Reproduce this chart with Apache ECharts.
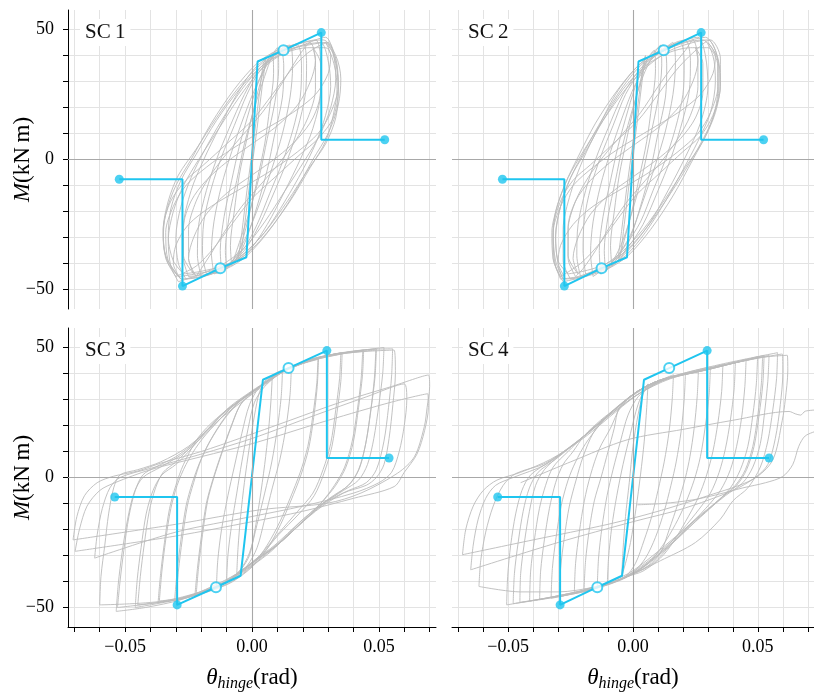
<!DOCTYPE html>
<html><head><meta charset="utf-8">
<script src="https://cdn.jsdelivr.net/npm/echarts@6/dist/echarts.min.js"></script>
<style>html,body{margin:0;padding:0;background:#fff}#c{width:814px;height:698px}</style>
</head><body><div id="c"></div>
<script>
const panelNames = ['SC\u20091', 'SC\u20092', 'SC\u20093', 'SC\u20094'];
const xTickValues = [-0.07,-0.06,-0.05,-0.04,-0.03,-0.02,-0.01,0,0.01,0.02,0.03,0.04,0.05,0.06,0.07];
const xLabelValues = [-0.05, 0, 0.05];
const yTickValues = [-50,-40,-30,-20,-10,0,10,20,30,40,50];
const yLabelValues = [-50, 0, 50];
const filledIdx = [0, 2, 7, 9];
const openIdx = [3, 6];

const sc1Backbone = [[-0.0523,-7.6],[-0.0274,-7.6],[-0.0274,-48.7],[-0.0125,-41.8],[-0.0022,-37.6],[0.0022,37.7],[0.0124,42.0],[0.0273,48.8],[0.0273,7.6],[0.0523,7.6]];
const sc2Backbone = [[-0.0523,-7.6],[-0.0275,-7.6],[-0.0275,-48.7],[-0.0126,-41.8],[-0.0024,-37.6],[0.0022,37.7],[0.0123,42.0],[0.0273,48.8],[0.0273,7.6],[0.0523,7.6]];
const sc3Backbone = [[-0.0541,-7.5],[-0.0295,-7.5],[-0.0295,-49.0],[-0.0142,-42.2],[-0.0045,-37.8],[0.0043,37.6],[0.0144,42.1],[0.0295,48.8],[0.0295,7.5],[0.0540,7.5]];
const sc4Backbone = [[-0.0542,-7.5],[-0.0292,-7.5],[-0.0292,-49.0],[-0.0143,-42.2],[-0.0044,-37.8],[0.0044,37.6],[0.0145,42.1],[0.0297,48.8],[0.0297,7.5],[0.0545,7.5]];

const sc1Loops = [
[[-0.0055,-39],[-0.004,-28],[-0.002,-12],[0.001,10],[0.003,26],[0.0045,37],[0.0055,39],[0.004,28],[0.002,12],[-0.001,-10],[-0.003,-26],[-0.0045,-37],[-0.0055,-39]],
[[-0.008,-41],[-0.0085,-33],[-0.007,-20],[-0.005,-6],[-0.002,8],[0.001,21],[0.004,32],[0.0065,39],[0.008,41],[0.0085,33],[0.007,20],[0.005,6],[0.002,-8],[-0.001,-21],[-0.004,-32],[-0.0065,-39],[-0.008,-41]],
[[-0.010,-42],[-0.0105,-35],[-0.009,-22],[-0.006,-8],[-0.003,6],[0.001,20],[0.005,32],[0.008,40],[0.010,43],[0.0105,35],[0.009,22],[0.006,8],[0.003,-6],[-0.001,-20],[-0.005,-32],[-0.008,-40],[-0.010,-42]],
[[-0.012,-43],[-0.0125,-35],[-0.011,-22],[-0.008,-8],[-0.005,5],[-0.001,19],[0.003,31],[0.007,39],[0.011,43],[0.0125,36],[0.012,24],[0.009,10],[0.006,-4],[0.002,-18],[-0.002,-30],[-0.006,-38],[-0.012,-43]],
[[-0.015,-44],[-0.016,-36],[-0.015,-24],[-0.012,-10],[-0.008,3],[-0.003,17],[0.002,29],[0.007,38],[0.012,43],[0.015,44],[0.016,36],[0.015,24],[0.012,10],[0.008,-3],[0.003,-17],[-0.002,-29],[-0.007,-38],[-0.012,-43],[-0.015,-44]],
[[-0.018,-44],[-0.0195,-36],[-0.019,-24],[-0.016,-11],[-0.012,1],[-0.007,13],[-0.002,25],[0.003,34],[0.009,40],[0.014,43],[0.018,44],[0.0195,36],[0.019,24],[0.016,11],[0.012,-1],[0.007,-13],[0.002,-25],[-0.003,-34],[-0.009,-40],[-0.014,-43],[-0.018,-44]],
[[-0.020,-45],[-0.0215,-37],[-0.021,-25],[-0.018,-12],[-0.014,0],[-0.009,12],[-0.003,25],[0.003,35],[0.010,41],[0.016,44],[0.020,45],[0.0215,37],[0.021,25],[0.018,12],[0.014,0],[0.009,-12],[0.003,-25],[-0.003,-35],[-0.010,-41],[-0.016,-44],[-0.020,-45]],
[[-0.022,-45],[-0.025,-38],[-0.025,-27],[-0.022,-16],[-0.017,-7],[-0.011,1],[-0.004,9],[0.004,18],[0.011,28],[0.016,36],[0.020,42],[0.023,45],[0.025,38],[0.025,27],[0.022,16],[0.017,7],[0.011,-1],[0.004,-9],[-0.004,-18],[-0.011,-28],[-0.016,-36],[-0.020,-42],[-0.022,-45]],
[[-0.025,-45],[-0.027,-38],[-0.027,-26],[-0.024,-12],[-0.019,0],[-0.013,12],[-0.006,25],[0.001,35],[0.009,41],[0.017,44],[0.025,46],[0.027,38],[0.027,26],[0.024,12],[0.019,0],[0.013,-12],[0.006,-25],[-0.001,-35],[-0.009,-41],[-0.017,-44],[-0.025,-45]],
[[-0.026,-46],[-0.029,-40],[-0.030,-30],[-0.028,-18],[-0.024,-7],[-0.019,3],[-0.012,15],[-0.004,27],[0.004,36],[0.012,41],[0.020,44],[0.027,45],[0.030,38],[0.031,28],[0.029,17],[0.025,6],[0.020,-4],[0.013,-16],[0.005,-28],[-0.003,-36],[-0.011,-42],[-0.019,-45],[-0.026,-46]],
[[-0.029,-47],[-0.032,-41],[-0.033,-31],[-0.031,-20],[-0.027,-10],[-0.021,0],[-0.013,12],[-0.005,24],[0.003,34],[0.011,40],[0.020,44],[0.029,47],[0.032,41],[0.033,31],[0.031,20],[0.027,10],[0.021,0],[0.013,-12],[0.005,-24],[-0.003,-34],[-0.011,-40],[-0.020,-44],[-0.029,-47]],
[[-0.028,-46],[-0.033,-40],[-0.035,-31],[-0.034,-21],[-0.030,-10],[-0.024,0],[-0.016,14],[-0.007,27],[0.002,37],[0.010,42],[0.020,45],[0.028,46],[0.033,40],[0.035,31],[0.034,21],[0.030,10],[0.024,0],[0.016,-14],[0.007,-27],[-0.002,-37],[-0.010,-42],[-0.020,-45],[-0.028,-46]],
[[-0.029,-45],[-0.034,-37],[-0.035,-27],[-0.033,-16],[-0.029,-6],[-0.022,4],[-0.014,16],[-0.005,28],[0.004,37],[0.013,42],[0.022,44],[0.029,45],[0.033,37],[0.034,27],[0.033,16],[0.029,6],[0.022,-4],[0.014,-16],[0.005,-28],[-0.004,-37],[-0.013,-42],[-0.022,-44],[-0.029,-45]],
[[-0.027,-44],[-0.031,-39],[-0.033,-30],[-0.032,-19],[-0.028,-8],[-0.022,2],[-0.014,15],[-0.005,27],[0.004,36],[0.013,41],[0.022,43],[0.029,43],[0.0325,36],[0.0335,27],[0.032,17],[0.029,7],[0.023,-3],[0.015,-16],[0.006,-28],[-0.003,-37],[-0.012,-41],[-0.020,-43],[-0.027,-44]],
[[-0.030,-45],[-0.034,-38],[-0.035,-27],[-0.032,-16],[-0.026,-8],[-0.019,-2],[-0.010,6],[0.000,15],[0.008,25],[0.015,34],[0.022,41],[0.030,45],[0.033,38],[0.034,27],[0.032,16],[0.026,8],[0.019,2],[0.010,-6],[0.000,-15],[-0.008,-25],[-0.015,-34],[-0.022,-41],[-0.030,-45]],
[[-0.028,-46],[-0.033,-39],[-0.034,-28],[-0.031,-18],[-0.026,-10],[-0.018,-3],[-0.008,4],[0.004,11],[0.016,18],[0.025,25],[0.030,33],[0.031,40],[0.029,45],[0.033,39],[0.034,28],[0.031,18],[0.026,10],[0.018,3],[0.008,-4],[-0.004,-11],[-0.016,-18],[-0.025,-25],[-0.030,-33],[-0.031,-40],[-0.028,-46]],
[[-0.023,-44],[-0.027,-37],[-0.027,-26],[-0.024,-16],[-0.018,-8],[-0.010,-1],[0.000,6],[0.010,13],[0.018,21],[0.023,30],[0.025,38],[0.024,43],[0.027,37],[0.027,26],[0.024,16],[0.018,8],[0.010,1],[0.000,-6],[-0.010,-13],[-0.018,-21],[-0.023,-30],[-0.025,-38],[-0.023,-44]]
];

const sc2Loops = [
[[-0.006,-38],[-0.0045,-27],[-0.0025,-11],[0.0005,10],[0.0025,25],[0.004,36],[0.005,40],[0.0035,29],[0.0015,13],[-0.0015,-9],[-0.0035,-25],[-0.005,-36],[-0.006,-38]],
[[-0.0085,-41],[-0.009,-33],[-0.0075,-20],[-0.0055,-6],[-0.0025,8],[0.0005,21],[0.0035,32],[0.006,39],[0.0085,42],[0.009,34],[0.0075,21],[0.0055,7],[0.0025,-7],[-0.0005,-20],[-0.0035,-31],[-0.006,-39],[-0.0085,-41]],
[[-0.011,-43],[-0.0115,-35],[-0.010,-22],[-0.007,-8],[-0.004,6],[0.000,20],[0.004,32],[0.008,40],[0.011,44],[0.0115,36],[0.010,23],[0.007,9],[0.004,-5],[0.000,-19],[-0.004,-31],[-0.008,-39],[-0.011,-43]],
[[-0.013,-44],[-0.0135,-35],[-0.012,-22],[-0.009,-8],[-0.006,5],[-0.002,19],[0.002,31],[0.006,39],[0.012,44],[0.0135,36],[0.013,24],[0.010,10],[0.007,-4],[0.003,-18],[-0.001,-30],[-0.005,-38],[-0.013,-44]],
[[-0.016,-45],[-0.017,-36],[-0.016,-24],[-0.013,-10],[-0.009,3],[-0.004,17],[0.001,29],[0.007,38],[0.013,43],[0.016,45],[0.017,37],[0.016,25],[0.013,11],[0.009,-2],[0.004,-16],[-0.001,-29],[-0.007,-38],[-0.013,-43],[-0.016,-45]],
[[-0.019,-44],[-0.020,-35],[-0.0195,-23],[-0.017,-11],[-0.013,1],[-0.008,13],[-0.003,25],[0.003,34],[0.009,40],[0.015,43],[0.019,45],[0.0205,37],[0.020,25],[0.017,12],[0.013,0],[0.008,-12],[0.003,-24],[-0.003,-33],[-0.009,-40],[-0.015,-43],[-0.019,-44]],
[[-0.021,-45],[-0.0225,-37],[-0.022,-25],[-0.019,-12],[-0.015,0],[-0.010,12],[-0.004,25],[0.003,35],[0.010,41],[0.017,45],[0.021,46],[0.023,38],[0.0225,26],[0.019,12],[0.015,0],[0.010,-12],[0.004,-25],[-0.003,-35],[-0.010,-41],[-0.017,-44],[-0.021,-45]],
[[-0.023,-45],[-0.026,-38],[-0.026,-27],[-0.023,-16],[-0.018,-7],[-0.012,1],[-0.005,9],[0.003,18],[0.010,28],[0.016,36],[0.021,42],[0.024,46],[0.026,39],[0.026,28],[0.023,17],[0.018,8],[0.012,0],[0.005,-8],[-0.003,-17],[-0.010,-27],[-0.015,-35],[-0.020,-42],[-0.023,-45]],
[[-0.025,-46],[-0.028,-39],[-0.028,-27],[-0.025,-13],[-0.020,0],[-0.014,12],[-0.007,25],[0.001,35],[0.009,41],[0.018,45],[0.026,47],[0.029,40],[0.030,28],[0.027,14],[0.021,1],[0.014,-12],[0.007,-24],[-0.001,-34],[-0.009,-41],[-0.017,-44],[-0.025,-46]],
[[-0.027,-46],[-0.030,-40],[-0.031,-30],[-0.029,-18],[-0.025,-7],[-0.019,4],[-0.012,16],[-0.004,28],[0.004,37],[0.013,42],[0.021,45],[0.028,46],[0.032,40],[0.033,30],[0.031,18],[0.026,7],[0.020,-4],[0.013,-16],[0.005,-28],[-0.003,-37],[-0.012,-42],[-0.020,-45],[-0.027,-46]],
[[-0.028,-47],[-0.031,-41],[-0.032,-31],[-0.031,-20],[-0.027,-9],[-0.022,1],[-0.015,14],[-0.006,27],[0.003,37],[0.011,42],[0.020,45],[0.029,47],[0.033,42],[0.0345,33],[0.034,23],[0.030,11],[0.024,0],[0.016,-14],[0.007,-27],[-0.002,-37],[-0.010,-42],[-0.019,-45],[-0.028,-47]],
[[-0.029,-46],[-0.032,-38],[-0.0325,-28],[-0.030,-17],[-0.026,-7],[-0.020,3],[-0.012,15],[-0.003,27],[0.006,36],[0.015,42],[0.024,45],[0.030,46],[0.034,39],[0.035,29],[0.033,18],[0.028,7],[0.021,-3],[0.013,-15],[0.004,-27],[-0.005,-36],[-0.014,-42],[-0.022,-45],[-0.029,-46]],
[[-0.026,-44],[-0.030,-39],[-0.031,-29],[-0.029,-18],[-0.025,-7],[-0.019,3],[-0.012,15],[-0.004,27],[0.005,36],[0.014,41],[0.023,43],[0.030,43],[0.034,36],[0.034,27],[0.032,16],[0.027,6],[0.021,-4],[0.013,-16],[0.004,-28],[-0.005,-37],[-0.013,-41],[-0.020,-43],[-0.026,-44]],
[[-0.029,-45],[-0.032,-38],[-0.032,-27],[-0.029,-16],[-0.024,-8],[-0.017,-2],[-0.008,6],[0.002,15],[0.010,25],[0.017,34],[0.024,41],[0.031,46],[0.035,39],[0.035,28],[0.032,17],[0.027,9],[0.020,3],[0.011,-5],[0.001,-14],[-0.007,-24],[-0.014,-33],[-0.021,-40],[-0.029,-45]],
[[-0.028,-46],[-0.031,-39],[-0.032,-28],[-0.029,-18],[-0.024,-10],[-0.016,-3],[-0.006,4],[0.006,11],[0.018,18],[0.027,25],[0.032,33],[0.033,40],[0.030,45],[0.034,38],[0.034,28],[0.031,18],[0.026,10],[0.018,3],[0.008,-4],[-0.004,-11],[-0.016,-18],[-0.024,-25],[-0.029,-33],[-0.030,-40],[-0.028,-46]],
[[-0.022,-44],[-0.026,-37],[-0.026,-26],[-0.023,-16],[-0.017,-8],[-0.009,-1],[0.001,6],[0.011,13],[0.019,21],[0.024,30],[0.026,38],[0.025,43],[0.028,37],[0.028,26],[0.025,16],[0.019,8],[0.011,1],[0.001,-6],[-0.009,-13],[-0.017,-21],[-0.022,-30],[-0.024,-38],[-0.022,-44]]
];

const sc3Loops = [
[[-0.006,-37],[-0.0055,-27],[-0.0045,-15],[-0.003,-2],[-0.001,12],[0.001,24],[0.003,33],[0.0055,37],[0.008,39],[0.0075,30],[0.0065,18],[0.005,5],[0.003,-9],[0.001,-21],[-0.001,-30],[-0.004,-35],[-0.006,-37]],
[[-0.010,-40],[-0.0095,-30],[-0.008,-18],[-0.006,-6],[-0.004,6],[-0.0015,19],[0.001,29],[0.005,35],[0.012,41],[0.0115,31],[0.010,19],[0.0078,6],[0.005,-6],[0.002,-18],[-0.001,-29],[-0.005,-36],[-0.010,-40]],
[[-0.014,-42],[-0.0135,-32],[-0.012,-20],[-0.0095,-7],[-0.007,4],[-0.004,17],[-0.001,28],[0.003,35],[0.009,40],[0.0155,42.5],[0.015,32],[0.0135,20],[0.011,7],[0.008,-4],[0.005,-16],[0.002,-27],[-0.002,-34],[-0.008,-39],[-0.014,-42]],
[[-0.022,-45],[-0.021,-34],[-0.0195,-22],[-0.0175,-9],[-0.015,0],[-0.012,9],[-0.008,20],[-0.004,29],[0.003,35],[0.012,41],[0.020,44],[0.026,46],[0.0255,36],[0.024,24],[0.022,12],[0.019,2],[0.015,-8],[0.011,-17],[0.006,-26],[0.0,-34],[-0.008,-40],[-0.015,-43],[-0.022,-45]],
[[-0.0225,-45.5],[-0.0215,-35],[-0.020,-23],[-0.018,-10],[-0.0155,-1],[-0.0125,8],[-0.0085,19],[-0.0045,28],[0.002,34],[0.011,40.5],[0.019,43.5],[0.0262,45.5],[0.0257,35],[0.0243,23],[0.0223,11],[0.0193,1],[0.0153,-9],[0.0113,-18],[0.0063,-27],[0.0005,-34],[-0.0075,-40],[-0.0145,-43],[-0.0225,-45.5]],
[[-0.030,-47],[-0.029,-36],[-0.0275,-24],[-0.0255,-11],[-0.023,-2],[-0.020,7],[-0.016,15],[-0.010,24],[-0.004,30],[0.003,35],[0.012,41],[0.022,45],[0.035,48],[0.0345,38],[0.033,26],[0.031,13],[0.028,3],[0.024,-6],[0.018,-13],[0.010,-22],[0.003,-30],[-0.004,-36],[-0.012,-41],[-0.020,-44],[-0.030,-47]],
[[-0.0305,-47.5],[-0.0295,-36],[-0.028,-24],[-0.026,-11],[-0.0235,-2],[-0.0205,6],[-0.0165,14],[-0.0105,23],[-0.0045,29.5],[0.0025,34.5],[0.0115,40.5],[0.0215,44.5],[0.0355,47.5],[0.035,37],[0.0335,25],[0.0315,12],[0.0285,2],[0.0245,-7],[0.0185,-14],[0.0105,-22],[0.0035,-30],[-0.0035,-36],[-0.0115,-41],[-0.0195,-44.5],[-0.0305,-47.5]],
[[-0.037,-48],[-0.036,-37],[-0.0345,-25],[-0.0325,-12],[-0.030,-3],[-0.027,5],[-0.022,14],[-0.016,20],[-0.010,26],[-0.004,30],[0.003,35],[0.012,41],[0.025,46],[0.044,49],[0.0435,39],[0.042,27],[0.040,14],[0.037,4],[0.033,-3],[0.028,-9],[0.020,-17],[0.010,-26],[0.004,-30],[-0.003,-35],[-0.010,-40],[-0.020,-44],[-0.030,-47],[-0.037,-48]],
[[-0.0365,-47.5],[-0.0355,-36],[-0.034,-24],[-0.032,-12],[-0.0295,-3],[-0.026,5],[-0.021,13],[-0.015,20],[-0.009,26],[-0.003,31],[0.004,35.5],[0.013,41],[0.026,46],[0.0436,48.5],[0.043,38],[0.0415,26],[0.0395,14],[0.0365,4],[0.0325,-3],[0.027,-10],[0.019,-17],[0.009,-26],[0.002,-31],[-0.006,-37],[-0.016,-42],[-0.026,-46],[-0.0365,-47.5]],
[[-0.045,-49],[-0.044,-38],[-0.0425,-26],[-0.0405,-13],[-0.038,-4],[-0.035,2],[-0.030,6],[-0.024,12],[-0.018,19],[-0.010,26],[-0.004,30],[0.003,35],[0.010,40],[0.020,44],[0.030,47],[0.040,48.5],[0.049,49.5],[0.0485,39],[0.047,27],[0.045,14],[0.0425,4],[0.039,-2],[0.034,-6],[0.028,-10],[0.020,-17],[0.010,-26],[0.004,-30],[-0.003,-35],[-0.010,-40],[-0.020,-44],[-0.030,-47],[-0.045,-49]],
[[-0.046,-50],[-0.0452,-39],[-0.0437,-27],[-0.0417,-14],[-0.039,-5],[-0.0355,1],[-0.030,5],[-0.024,11],[-0.017,19],[-0.009,27],[-0.002,32],[0.005,36.5],[0.015,42],[0.030,47],[0.0488,49],[0.0482,38],[0.0468,26],[0.0448,13],[0.042,3],[0.038,-3],[0.032,-7],[0.025,-12],[0.017,-19],[0.008,-28],[0.0,-34],[-0.010,-40.5],[-0.025,-46],[-0.046,-50]],
[[-0.053,-50],[-0.052,-40],[-0.0505,-28],[-0.0485,-15],[-0.046,-5],[-0.043,1],[-0.038,4],[-0.030,8],[-0.022,14],[-0.012,24],[-0.004,30],[0.003,35],[0.012,41],[0.025,46],[0.040,48.5],[0.052,50],[0.0515,40],[0.050,28],[0.048,15],[0.0455,5],[0.042,-1],[0.036,-5],[0.028,-10],[0.020,-17],[0.010,-26],[0.0,-33],[-0.010,-40],[-0.025,-46],[-0.040,-48.5],[-0.053,-50]],
[[-0.0535,-51.5],[-0.0527,-41],[-0.0512,-29],[-0.049,-16],[-0.0465,-6],[-0.043,0],[-0.036,4],[-0.026,10],[-0.016,19],[-0.006,29],[0.002,34],[0.012,40.5],[0.028,46.5],[0.043,49],[0.0554,49.5],[0.055,39],[0.0538,27],[0.052,14],[0.049,3],[0.045,-2],[0.038,-5],[0.030,-9],[0.021,-16],[0.011,-25],[0.001,-33],[-0.012,-41],[-0.028,-47],[-0.042,-50],[-0.0535,-51.5]],
[[-0.060,-49],[-0.0595,-38],[-0.058,-26],[-0.0565,-14],[-0.0545,-4],[-0.052,1],[-0.045,3],[-0.036,6],[-0.025,12],[-0.012,23],[0.0,32],[0.015,42],[0.035,47.5],[0.056,49],[0.0565,40],[0.0555,28],[0.054,15],[0.052,5],[0.049,0],[0.045,-3],[0.036,-6],[0.025,-13],[0.012,-24],[0.0,-33],[-0.015,-42],[-0.035,-47.5],[-0.060,-49]],
[[-0.0705,-24],[-0.069,-15],[-0.066,-7],[-0.061,-2],[-0.0545,0.5],[-0.045,2.5],[-0.036,5.5],[-0.020,10],[-0.005,15],[0.015,22],[0.035,29],[0.055,35],[0.0695,39.4],[0.070,35],[0.069,27],[0.0679,19.6],[0.064,8],[0.0574,1.7],[0.0429,-6],[0.0297,-9.9],[0.0034,-12.4],[-0.030,-18],[-0.0705,-24]],
[[-0.0697,-28.4],[-0.068,-20],[-0.065,-11],[-0.060,-5],[-0.054,-2],[-0.040,3],[-0.020,8],[0.0,13],[0.030,22],[0.055,29],[0.0692,32.2],[0.0695,27],[0.068,18],[0.065,9],[0.060,2],[0.056,-3.5],[0.040,-8],[0.020,-13],[0.0,-17],[-0.030,-22.5],[-0.0697,-28.4]],
[[-0.062,-31],[-0.061,-22],[-0.059,-12],[-0.056,-4],[-0.052,0],[-0.040,3.5],[-0.020,9],[0.000,15],[0.025,24],[0.045,31],[0.060,36],[0.061,30],[0.060,20],[0.058,10],[0.055,2],[0.050,-2],[0.040,-6],[0.020,-11],[0.000,-15],[-0.030,-21],[-0.062,-31]]
];

const sc4Loops = [
[[-0.0045,-38],[-0.004,-28],[-0.003,-15],[-0.0015,-2],[0.0,12],[0.002,24],[0.004,32],[0.006,36],[0.0055,27],[0.0045,14],[0.003,1],[0.0012,-12],[-0.001,-25],[-0.003,-33],[-0.0045,-38]],
[[-0.0103,-41],[-0.0098,-31],[-0.0085,-19],[-0.0065,-7],[-0.004,5],[-0.001,17],[0.002,28],[0.005,34],[0.010,37],[0.0162,39.5],[0.0157,30],[0.0145,18],[0.0125,6],[0.010,-5],[0.0075,-15],[0.0045,-24],[0.001,-33],[-0.003,-38],[-0.0103,-41]],
[[-0.0143,-42],[-0.0138,-31],[-0.0124,-19],[-0.0104,-7],[-0.008,3],[-0.005,14],[-0.002,24],[0.002,31],[0.008,35.5],[0.014,38],[0.021,40],[0.0205,30],[0.0193,18],[0.0173,6],[0.0152,-3],[0.0125,-13],[0.009,-23],[0.005,-31],[0.0,-36.5],[-0.007,-40],[-0.0143,-42]],
[[-0.0196,-43],[-0.019,-32],[-0.0175,-20],[-0.0155,-9],[-0.0128,0],[-0.010,10],[-0.0075,19],[-0.0055,27],[0.0,31.5],[0.006,35],[0.015,38.5],[0.0262,41],[0.0257,31],[0.0245,19],[0.0228,8],[0.021,0],[0.018,-10],[0.0145,-20],[0.011,-29],[0.006,-34],[-0.002,-38],[-0.010,-41],[-0.0196,-43]],
[[-0.0235,-44.5],[-0.023,-33],[-0.0215,-21],[-0.0195,-9],[-0.017,1],[-0.0135,11],[-0.009,19],[-0.005,27],[0.0016,33],[0.011,37.5],[0.020,40],[0.031,42.5],[0.0305,32],[0.029,20],[0.027,8],[0.0245,-1],[0.021,-10],[0.017,-18],[0.012,-26],[0.006,-33],[-0.001,-37.5],[-0.010,-41],[-0.0235,-44.5]],
[[-0.0295,-46],[-0.029,-35],[-0.0275,-23],[-0.0255,-11],[-0.0228,-1],[-0.020,8],[-0.016,17],[-0.011,23],[-0.006,27.5],[0.0016,33],[0.011,37.5],[0.022,40],[0.036,43.5],[0.0355,33],[0.034,21],[0.032,10],[0.0295,1],[0.026,-8],[0.021,-17],[0.016,-25],[0.011,-31],[0.004,-36],[-0.002,-38],[-0.010,-41],[-0.020,-43.5],[-0.0295,-46]],
[[-0.0328,-46.5],[-0.0323,-35],[-0.0308,-23],[-0.0288,-11],[-0.026,-1],[-0.023,6],[-0.019,13],[-0.0135,20],[-0.0063,27],[0.0016,33],[0.011,37.5],[0.025,40.5],[0.041,44.5],[0.0405,34],[0.039,22],[0.037,11],[0.0345,2],[0.031,-6],[0.025,-14],[0.018,-22],[0.011,-29],[0.003,-35],[-0.005,-39],[-0.015,-42.5],[-0.0328,-46.5]],
[[-0.0374,-47],[-0.037,-36],[-0.0355,-24],[-0.0335,-12],[-0.031,-2],[-0.028,5],[-0.024,10],[-0.0196,16],[-0.013,22],[-0.0063,27],[0.0016,33],[0.011,37.5],[0.025,40.5],[0.0453,45.5],[0.0448,35],[0.0435,23],[0.0415,12],[0.039,3],[0.035,-5],[0.029,-12],[0.022,-19],[0.015,-26],[0.008,-33],[0.0,-37],[-0.010,-41],[-0.020,-43.5],[-0.030,-45.5],[-0.0374,-47]],
[[-0.0414,-47.5],[-0.041,-36],[-0.0395,-24],[-0.0375,-12],[-0.035,-3],[-0.032,4],[-0.026,10],[-0.0196,16],[-0.0063,27],[0.0016,33],[0.011,37.5],[0.031,42],[0.0519,46.5],[0.0514,36],[0.050,24],[0.048,12],[0.045,3],[0.041,-3],[0.034,-9],[0.025,-16],[0.015,-25],[0.005,-33],[-0.005,-39],[-0.020,-43.5],[-0.0414,-47.5]],
[[-0.0453,-48],[-0.045,-37],[-0.0435,-25],[-0.0415,-13],[-0.039,-3],[-0.0355,3],[-0.030,8],[-0.0196,16],[-0.0063,27],[0.0016,33],[0.011,37.5],[0.030,41.5],[0.0499,46.5],[0.0494,36],[0.048,24],[0.046,12],[0.043,3],[0.039,-4],[0.033,-10],[0.025,-17],[0.015,-26],[0.005,-34],[-0.005,-39.5],[-0.020,-44],[-0.035,-46.5],[-0.0453,-48]],
[[-0.048,-48.5],[-0.0475,-37],[-0.046,-25],[-0.044,-13],[-0.0415,-4],[-0.038,2],[-0.031,7],[-0.0196,16],[-0.0063,27],[0.0016,33],[0.011,37.5],[0.030,41.5],[0.0525,47],[0.052,36],[0.0505,24],[0.0485,12],[0.0455,3],[0.0415,-3],[0.035,-8],[0.027,-15],[0.017,-24],[0.007,-32],[-0.003,-38.5],[-0.018,-43.5],[-0.034,-46.5],[-0.048,-48.5]],
[[-0.0506,-49],[-0.0502,-38],[-0.049,-26],[-0.047,-14],[-0.0445,-5],[-0.041,1],[-0.0328,6.5],[-0.0196,16],[-0.0063,27],[0.0016,33],[0.011,37.5],[0.031,42],[0.0545,47],[0.054,37],[0.0527,25],[0.051,13],[0.048,4],[0.044,-2],[0.037,-7],[0.028,-14],[0.018,-22],[0.008,-30],[-0.002,-37],[-0.015,-42],[-0.030,-45.5],[-0.0506,-49]],
[[-0.0617,-41.9],[-0.061,-32],[-0.059,-21],[-0.056,-11],[-0.052,-3],[-0.047,1.5],[-0.035,5.5],[-0.022,14],[-0.008,25],[0.002,32],[0.015,38.5],[0.035,43.5],[0.0579,48],[0.0575,38],[0.056,26],[0.054,14],[0.051,4],[0.046,-4],[0.040,-9],[0.035,-16],[0.025,-25],[0.011,-32],[-0.002,-38],[-0.015,-42],[-0.030,-44],[-0.045,-44],[-0.0617,-41.9]],
[[-0.065,-35.5],[-0.064,-26],[-0.062,-16],[-0.059,-8],[-0.055,-3],[-0.048,0],[-0.035,5],[-0.022,14],[-0.008,25],[0.002,32],[0.015,38],[0.035,43],[0.0598,47.5],[0.060,40],[0.059,28],[0.057,15],[0.054,5],[0.049,0],[0.040,-5],[0.020,-12],[0.0,-17],[-0.030,-25],[-0.065,-35.5]],
[[-0.0683,-29.7],[-0.067,-20],[-0.064,-11],[-0.060,-5],[-0.0545,-1],[-0.045,2],[-0.033,7],[-0.020,15],[-0.006,26],[0.002,32],[0.011,37],[0.030,41.5],[0.050,46],[0.0618,47],[0.062,41],[0.061,30],[0.0598,22],[0.0559,6.6],[0.048,-0.7],[0.030,-7],[0.010,-13],[-0.010,-18],[-0.040,-24],[-0.0683,-29.7]],
[[0.0017,-10.5],[0.012,-10],[0.024,-8.6],[0.034,-6.5],[0.044,-4],[0.0531,-2],[0.060,0.4],[0.064,5],[0.0664,12],[0.069,16],[0.074,18]],
[[-0.045,-2],[-0.025,6],[-0.0023,14.5],[0.020,18.5],[0.040,22],[0.0625,25.4],[0.065,24.5],[0.0671,24],[0.069,25.5],[0.074,26]]
];

const FONT = "'Liberation Serif', 'DejaVu Serif', serif";
const CYAN = '#1fc5ef';
const panels = [
  {loops: sc1Loops, backbone: sc1Backbone, left: true, bottom: false},
  {loops: sc2Loops, backbone: sc2Backbone, left: false, bottom: false},
  {loops: sc3Loops, backbone: sc3Backbone, left: true, bottom: true},
  {loops: sc4Loops, backbone: sc4Backbone, left: false, bottom: true}
];
const gridPos = [
  {left: 68, top: 10, width: 368, height: 299},
  {left: 452, top: 10, width: 368, height: 299},
  {left: 68, top: 328, width: 368, height: 299},
  {left: 452, top: 328, width: 368, height: 299}
];
const fmtX = v => (v < 0 ? '\u2212' : '') + Math.abs(v).toFixed(2);
const fmtY = v => (v < 0 ? '\u2212' : '') + Math.abs(Math.round(v));

const xAxes = [], yAxes = [], series = [];
panels.forEach((p, i) => {
  xAxes.push({
    type: 'value', gridIndex: i, min: -0.0725, max: 0.0725,
    axisLine: {show: p.bottom, onZero: false, lineStyle: {color: '#000', width: 1}},
    axisTick: {show: p.bottom, customValues: xTickValues, length: 5, lineStyle: {color: '#000', width: 1}},
    axisLabel: {show: p.bottom, customValues: xLabelValues, formatter: fmtX, margin: 11, color: '#000', fontFamily: FONT, fontSize: 18},
    splitLine: {show: true, lineStyle: {color: '#e3e3e3', width: 1}},
    name: p.bottom ? '{t|\u03b8}{s|hinge}{r|(rad)}' : '',
    nameLocation: 'middle', nameGap: 37, nameMoveOverlap: false,
    nameTextStyle: {rich: {
      t: {fontFamily: FONT, fontStyle: 'italic', fontSize: 23, color: '#000'},
      s: {fontFamily: FONT, fontStyle: 'italic', fontSize: 16, color: '#000', padding: [12, 0, 0, 0]},
      r: {fontFamily: FONT, fontSize: 23, color: '#000'}
    }}
  });
  yAxes.push({
    type: 'value', gridIndex: i, min: -57.5, max: 57.5,
    axisLine: {show: p.left, onZero: false, lineStyle: {color: '#000', width: 1}},
    axisTick: {show: p.left, customValues: yTickValues, length: 5, lineStyle: {color: '#000', width: 1}},
    axisLabel: {show: p.left, customValues: yLabelValues, formatter: fmtY, margin: 14, color: '#000', fontFamily: FONT, fontSize: 18},
    splitLine: {show: true, lineStyle: {color: '#e3e3e3', width: 1}},
    name: p.left ? '{m|M}{r|(kN\u2009m)}' : '',
    nameLocation: 'middle', nameGap: 34, nameMoveOverlap: false,
    nameTextStyle: {rich: {
      m: {fontFamily: FONT, fontStyle: 'italic', fontSize: 23, color: '#000'},
      r: {fontFamily: FONT, fontSize: 23, color: '#000'}
    }}
  });
  p.loops.forEach((loop, j) => {
    const s = {
      type: 'line', xAxisIndex: i, yAxisIndex: i, data: loop,
      showSymbol: false, symbol: 'none', smooth: 0.3, silent: true, animation: false, z: 2,
      lineStyle: {color: '#bbbbbb', width: 0.9}
    };
    if (j === 0) {
      s.markLine = {silent: true, symbol: 'none', animation: false, label: {show: false},
        lineStyle: {color: '#a8a8a8', width: 1.1, type: 'solid'},
        data: [{xAxis: 0}, {yAxis: 0}]};
    }
    series.push(s);
  });
  series.push({type: 'line', xAxisIndex: i, yAxisIndex: i, data: p.backbone,
    showSymbol: false, symbol: 'none', silent: true, animation: false, z: 4,
    lineStyle: {color: CYAN, width: 2}});
  series.push({type: 'scatter', xAxisIndex: i, yAxisIndex: i, data: filledIdx.map(k => p.backbone[k]),
    symbolSize: 9, silent: true, animation: false, z: 5, itemStyle: {color: CYAN}});
  series.push({type: 'scatter', xAxisIndex: i, yAxisIndex: i, data: openIdx.map(k => p.backbone[k]),
    symbolSize: 10, silent: true, animation: false, z: 5, itemStyle: {color: '#fff', borderColor: CYAN, borderWidth: 2}});
});

const titlePos = [[80, 19], [463, 19], [80, 337], [463, 337]];
const chart = echarts.init(document.getElementById('c'), null, {renderer: 'canvas'});
chart.setOption({
  animation: false,
  backgroundColor: '#fff',
  title: panelNames.map((n, i) => ({
    text: n, left: titlePos[i][0], top: titlePos[i][1], backgroundColor: '#fff', padding: [3, 5],
    textStyle: {fontFamily: FONT, fontSize: 21, fontWeight: 'normal', color: '#111'}
  })),
  grid: gridPos,
  xAxis: xAxes,
  yAxis: yAxes,
  series: series
});
</script>
</body></html>
